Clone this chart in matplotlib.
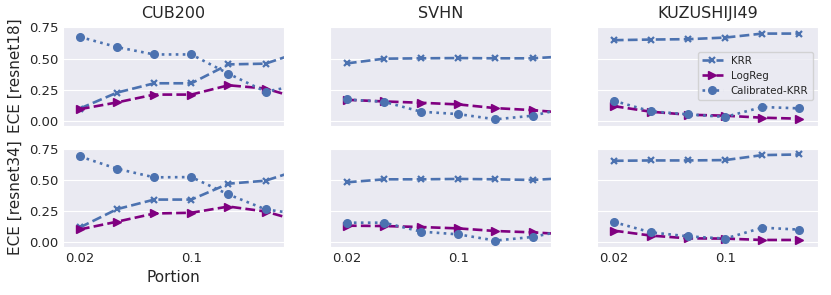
import numpy as np
import matplotlib
matplotlib.use("Agg")
import matplotlib.pyplot as plt
import seaborn as sns

sns.set_style("darkgrid")

# portion of training data (log-spaced); 7th point lies past the shown x-range
portion = [0.02, 0.0342, 0.0585, 0.1, 0.171, 0.292, 0.5]
datasets = ["CUB200", "SVHN", "KUZUSHIJI49"]
models = ["resnet18", "resnet34"]

# ECE values, rows = resnet18 / resnet34
krr = {
    "CUB200": [[0.098, 0.226, 0.301, 0.301, 0.453, 0.459, 0.56],
               [0.117, 0.264, 0.341, 0.341, 0.469, 0.493, 0.59]],
    "SVHN": [[0.461, 0.499, 0.502, 0.504, 0.502, 0.502, 0.52],
             [0.480, 0.504, 0.504, 0.507, 0.504, 0.499, 0.515]],
    "KUZUSHIJI49": [[0.648, 0.653, 0.656, 0.669, 0.701, 0.701],
                    [0.653, 0.656, 0.656, 0.659, 0.699, 0.704]],
}
logreg = {
    "CUB200": [[0.093, 0.147, 0.210, 0.210, 0.285, 0.259, 0.17],
               [0.101, 0.163, 0.229, 0.235, 0.285, 0.245, 0.16]],
    "SVHN": [[0.168, 0.155, 0.144, 0.131, 0.101, 0.085, 0.06],
             [0.131, 0.128, 0.120, 0.109, 0.088, 0.077, 0.06]],
    "KUZUSHIJI49": [[0.117, 0.072, 0.048, 0.040, 0.024, 0.016],
                    [0.091, 0.051, 0.029, 0.027, 0.016, 0.016]],
}
calib = {
    "CUB200": [[0.674, 0.592, 0.533, 0.533, 0.378, 0.234, 0.29],
               [0.688, 0.589, 0.520, 0.522, 0.382, 0.262, 0.22]],
    "SVHN": [[0.171, 0.152, 0.072, 0.053, 0.011, 0.040, 0.107],
             [0.155, 0.155, 0.083, 0.061, 0.011, 0.040, 0.10]],
    "KUZUSHIJI49": [[0.160, 0.075, 0.051, 0.030, 0.110, 0.099],
                    [0.160, 0.077, 0.045, 0.027, 0.115, 0.099]],
}

blue = "#4C72B0"
purple = "purple"

fig, axes = plt.subplots(2, 3, figsize=(8.31, 2.95), dpi=100, sharex=True, sharey=True)
plt.subplots_adjust(left=0.076, right=0.984, top=0.911, bottom=0.163, wspace=0.21, hspace=0.22)

for r, m in enumerate(models):
    for c, d in enumerate(datasets):
        ax = axes[r, c]
        y1 = krr[d][r]
        y2 = logreg[d][r]
        y3 = calib[d][r]
        ax.plot(portion[:len(y1)], y1, color=blue, ls="--", marker="x", lw=1.9, ms=4.5, mew=1.6, label="KRR")
        ax.plot(portion[:len(y2)], y2, color=purple, ls="--", marker=">", lw=1.9, ms=5.5, label="LogReg")
        ax.plot(portion[:len(y3)], y3, color=blue, ls=":", marker="o", lw=1.9, ms=5.5, label="Calibrated-KRR")
        ax.set_xscale("log")
        ax.grid(False, axis="x")
        ax.tick_params(labelsize=9.5, length=0)
        if r == 0:
            ax.set_title(d, fontsize=11.5)
        if c == 0:
            ax.set_ylabel("ECE [%s]" % m, fontsize=11)
        if r == 0 and c == 2:
            ax.legend(loc="center right", fontsize=7.4, framealpha=0.8)

axes[0, 0].set_xlim(0.0157, 0.38)
axes[0, 0].set_ylim(-0.04, 0.76)
axes[0, 0].set_yticks([0.0, 0.25, 0.5, 0.75])
axes[0, 0].set_xticks([0.02, 0.1])
axes[0, 0].set_xticklabels(["0.02", "0.1"])
axes[0, 0].xaxis.set_minor_locator(matplotlib.ticker.NullLocator())
axes[1, 0].set_xlabel("Portion", fontsize=11)

plt.savefig("out.png", dpi=100)
